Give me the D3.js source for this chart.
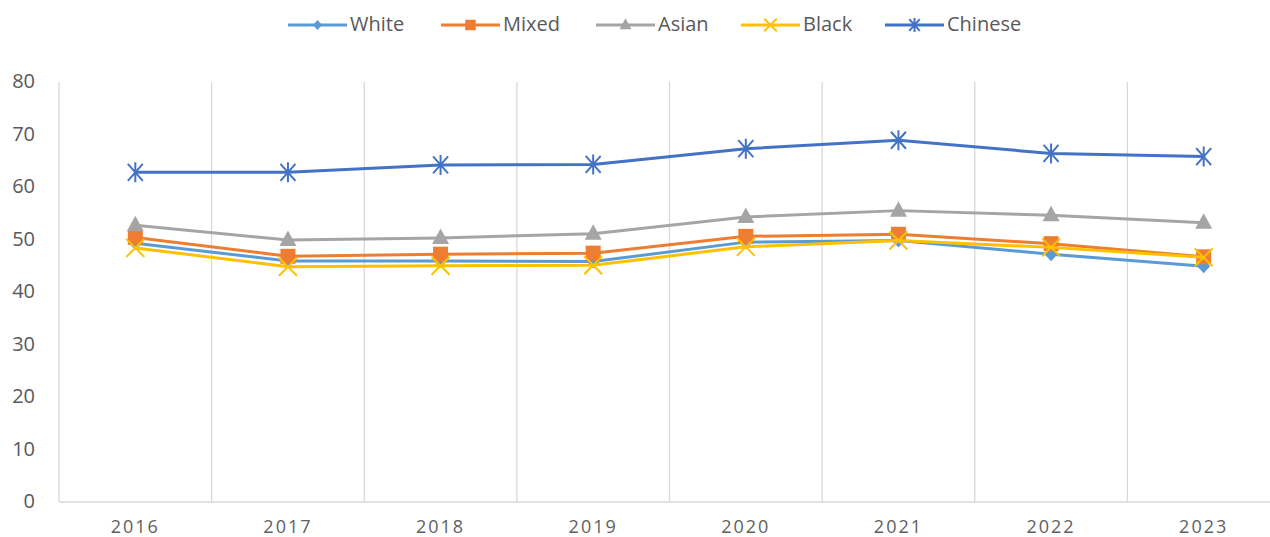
<!DOCTYPE html>
<html><head><meta charset="utf-8">
<script src="https://cdn.jsdelivr.net/npm/d3@7"></script>
<style>body{margin:0;background:#fff;}svg{display:block;font-family:"Open Sans",sans-serif;}</style>
</head><body><svg id="c" width="1270" height="537"></svg>
<script>
const years = ["2016","2017","2018","2019","2020","2021","2022","2023"];
const seriesNames = ["White","Mixed","Asian","Black","Chinese"];
const white   = [49.3, 45.9, 45.9, 45.8, 49.5, 49.8, 47.2, 44.9];
const mixed   = [50.4, 46.8, 47.2, 47.4, 50.6, 51.0, 49.2, 46.7];
const asian   = [52.7, 49.9, 50.3, 51.1, 54.3, 55.5, 54.6, 53.2];
const black   = [48.4, 44.8, 45.0, 45.1, 48.6, 49.8, 48.5, 46.6];
const chinese = [62.8, 62.8, 64.2, 64.3, 67.3, 68.9, 66.4, 65.8];
const yTicks = [0,10,20,30,40,50,60,70,80];

const values = [white, mixed, asian, black, chinese];
const colors = ["#5B9BD5","#ED7D31","#A5A5A5","#FFC000","#4472C4"];

const svg = d3.select("#c");
const x = d3.scaleBand().domain(years).range([59, 1280]);
const y = d3.scaleLinear().domain([0,80]).range([502, 82]);

// vertical gridlines (band edges)
svg.append("g").selectAll("line").data(years.slice(1)).join("line")
  .attr("x1", d=>x(d)).attr("x2", d=>x(d)).attr("y1", y(80)).attr("y2", y(0))
  .attr("stroke","#d9d9d9").attr("stroke-width",1.3);

// axes lines
svg.append("line").attr("x1",59).attr("x2",59).attr("y1",y(80)).attr("y2",y(0)).attr("stroke","#d9d9d9").attr("stroke-width",1.3);
svg.append("line").attr("x1",59).attr("x2",1270).attr("y1",y(0)).attr("y2",y(0)).attr("stroke","#d9d9d9").attr("stroke-width",1.3);

// y ticks
svg.append("g").selectAll("text").data(yTicks).join("text")
  .attr("x",35).attr("y",d=>y(d)-1).attr("dy","0.36em").attr("text-anchor","end")
  .attr("fill","#595959").attr("font-size",20).text(d=>d);

// x ticks
svg.append("g").selectAll("text").data(years).join("text")
  .attr("x",d=>x(d)+x.bandwidth()/2).attr("y",533).attr("text-anchor","middle")
  .attr("fill","#5f5f5f").attr("font-size",18).attr("font-weight",500).attr("letter-spacing","2px").text(d=>d);

const cx = d=>x(d)+x.bandwidth()/2;
const line = d3.line().x((d,i)=>cx(years[i])).y(d=>y(d));

function marker(g, s, px, py, k){
  k = k || 1;
  const c = colors[s];
  const t = `translate(${px},${py}) scale(${k})`;
  if (s===0){
    g.append("path").attr("d","M0,-7L6.5,0L0,7L-6.5,0Z").attr("transform",t).attr("fill",c);
  } else if (s===1){
    g.append("path").attr("d","M-7.5,-7.5H7.5V7.5H-7.5Z").attr("transform",t).attr("fill",c);
  } else if (s===2){
    g.append("path").attr("d","M0,-9.5L8.5,6H-8.5Z").attr("transform",t).attr("fill",c);
  } else if (s===3){
    g.append("path").attr("d","M-9,-9L9,9M-9,9L9,-9").attr("transform",t)
      .attr("fill","none").attr("stroke",c).attr("stroke-width",2/k);
  } else {
    g.append("path").attr("d","M0,-10V10M-7.5,-8.5L7.5,8.5M-7.5,8.5L7.5,-8.5").attr("transform",t)
      .attr("fill","none").attr("stroke",c).attr("stroke-width",2/k);
  }
}

values.forEach((vals, s)=>{
  const g = svg.append("g");
  g.append("path").datum(vals).attr("d",line).attr("fill","none")
    .attr("stroke",colors[s]).attr("stroke-width",3).attr("stroke-linejoin","round");
  vals.forEach((v,i)=>marker(g, s, cx(years[i]), y(v)));
});

// legend
const legX = [288, 441, 596, 741, 885];
const leg = svg.append("g");
seriesNames.forEach((n,s)=>{
  const lx = legX[s], ly = 25;
  leg.append("line").attr("x1",lx).attr("x2",lx+59).attr("y1",ly).attr("y2",ly)
    .attr("stroke",colors[s]).attr("stroke-width",3);
  marker(leg, s, lx+29.5, ly, 0.7);
  leg.append("text").attr("x",lx+62).attr("y",ly-1).attr("dy","0.36em")
    .attr("fill","#595959").attr("font-size",20).text(n);
});
</script></body></html>
